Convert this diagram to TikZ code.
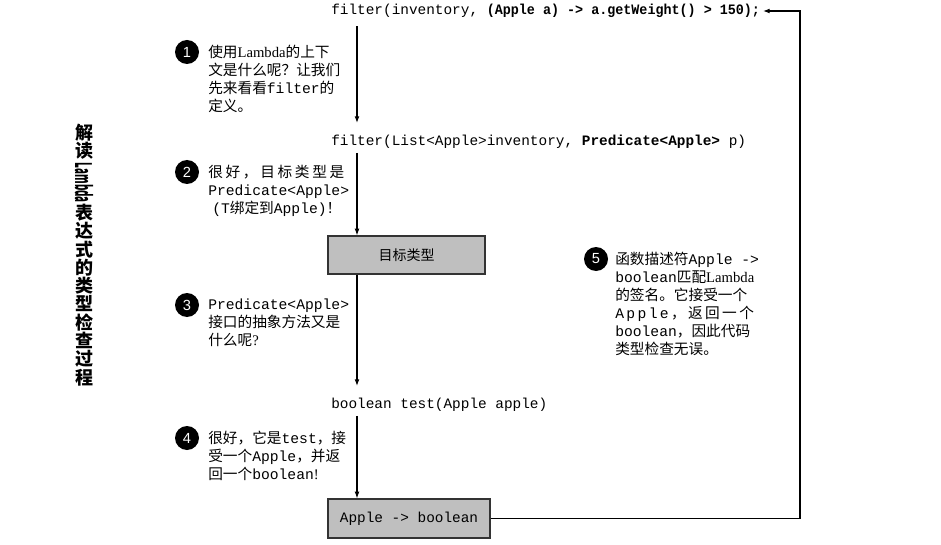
\documentclass[tikz,border=0pt]{standalone}
\usepackage{fontspec}
\usepackage{graphicx}
\setmainfont{Noto Sans CJK SC}
\setmonofont{Liberation Mono}
\newfontfamily\latserif{Liberation Serif}
\newfontfamily\numfont{Liberation Sans}
\usetikzlibrary{arrows.meta}

% Latin word set in serif inside the Chinese notes
\newcommand\Lam{{\latserif Lambda}}
% inline code
\newcommand\cd[1]{{\ttfamily #1}}

\tikzset{
  flow/.style={draw=black, line width=0.8pt, -{Latex[length=5pt,width=3.6pt]}},
  codeline/.style={anchor=west, inner sep=0pt, font=\ttfamily\fontsize{10.8}{13}\selectfont},
  note/.style={anchor=north west, inner sep=0pt, align=left,
               font=\fontsize{11}{13.5}\selectfont},
  badge/.style={circle, fill=black, text=white, inner sep=0pt, minimum size=18pt,
                font=\numfont\fontsize{11}{11}\selectfont},
  typebox/.style={draw=black!80, fill=black!25, line width=0.9pt, inner sep=0pt},
  title/.style={align=center, inner sep=0pt, font=\fontsize{13.5}{13.725}\selectfont\bfseries}
}

\begin{document}
\begin{tikzpicture}[x=0.75pt, y=-0.75pt]
  \path[use as bounding box] (0,0) rectangle (941,545);

  % vertical title, Latin word turned to run downwards
  \node[title] (title) at (84,255)
    {解\\读\\\raisebox{10pt}{\rotatebox{-90}{\resizebox{30pt}{\height}{\fontsize{17}{17}\selectfont Lambda}}}\\表\\达\\式\\的\\类\\型\\检\\查\\过\\程};

  % code lines
  \node[codeline] (call) at (331,11)
    {filter(inventory, \scalebox{0.93}[1]{\bfseries(Apple a) -> a.getWeight() > 150);}};
  \node[codeline] (sig) at (331,142)
    {filter(List<Apple>inventory, \textbf{Predicate<Apple>} p)};
  \node[codeline] (test) at (331,405) {boolean test(Apple apple)};

  % type boxes
  \node[typebox, minimum width=117.75pt, minimum height=28.5pt,
        font=\fontsize{10.5}{12}\selectfont] (target) at (406.5,255) {目标类型};
  \node[typebox, minimum width=121.5pt, minimum height=29.25pt,
        font=\ttfamily\fontsize{10.8}{13}\selectfont] (lambda) at (409,518.5) {Apple -> boolean};

  % main spine
  \coordinate (spine) at (357,0);
  \coordinate (loop) at (800,0);
  \draw[flow, shorten <=6pt, shorten >=9pt] (call.south -| spine) -- (sig.north -| spine);
  \draw[flow, shorten <=3pt] (sig.south -| spine) -- (target.north -| spine);
  \draw[flow, shorten >=9pt] (target.south -| spine) -- (test.north -| spine);
  \draw[flow, shorten <=3pt] (test.south -| spine) -- (lambda.north -| spine);

  % return path to the lambda expression
  \draw[flow, shorten >=2pt] (lambda.east) -- (lambda.east -| loop) |- (call.east);

  % numbered notes
  \node[badge] (b1) at (187,52) {1};
  \node[note] (n1) at (208,45)
    {使用\Lam 的上下\\文是什么呢？让我们\\先来看看\cd{filter}的\\定义。};

  \node[badge] (b2) at (187,172) {2};
  \node[note] (n2) at (208,165)
    {\makebox[102pt][s]{很\hfil 好\hfil ，\hfil 目\hfil 标\hfil 类\hfil 型\hfil 是}\\
     \cd{Predicate<Apple>}\\\hspace{3pt}\cd{(T}绑定到\cd{Apple)}！};

  \node[badge] (b3) at (187,305) {3};
  \node[note] (n3) at (208,299)
    {\cd{Predicate<Apple>}\\接口的抽象方法又是\\什么呢{\latserif ?}};

  \node[badge] (b4) at (187,438) {4};
  \node[note] (n4) at (208,431)
    {很好，它是\cd{test}，接\\受一个\cd{Apple}，并返\\回一个\cd{boolean}{\latserif !}};

  \node[badge] (b5) at (596,259) {5};
  \node[note] (n5) at (615,252)
    {函数描述符\cd{Apple ->}\\\cd{boolean}匹配\Lam\\的签名。它接受一个\\
     \makebox[104pt][s]{\ttfamily A\hfil p\hfil p\hfil l\hfil e\hfil \rmfamily ，\hfil 返\hfil 回\hfil 一\hfil 个}\\
     \cd{boolean}，因此代码\\类型检查无误。};
\end{tikzpicture}
\end{document}
